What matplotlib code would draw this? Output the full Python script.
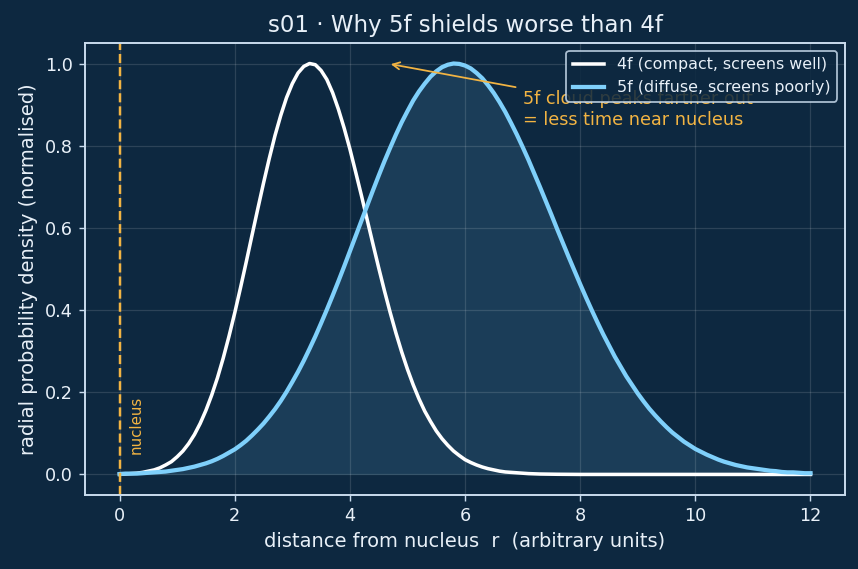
import matplotlib
matplotlib.use("Agg")
import matplotlib.pyplot as plt

# radius samples (arbitrary units), step 0.1 from 0 to 12
r = [i / 10 for i in range(121)]

# 4f radial probability density (normalised)
f4 = [0.000, 0.001, 0.002, 0.003, 0.005, 0.008, 0.011, 0.016, 0.023, 0.031,
      0.043, 0.057, 0.075, 0.097, 0.124, 0.156, 0.193, 0.235, 0.283, 0.336,
      0.393, 0.454, 0.517, 0.582, 0.646, 0.709, 0.769, 0.825, 0.874, 0.917,
      0.951, 0.977, 0.993, 1.000, 0.997, 0.983, 0.961, 0.929, 0.889, 0.843,
      0.792, 0.736, 0.679, 0.620, 0.561, 0.503, 0.447, 0.394, 0.344, 0.298,
      0.256, 0.218, 0.184, 0.154, 0.129, 0.106, 0.087, 0.071, 0.057, 0.046,
      0.036, 0.029, 0.023, 0.018, 0.014, 0.011, 0.008, 0.006, 0.005, 0.004,
      0.003, 0.002, 0.0015, 0.001, 0.0008, 0.0006, 0.0004, 0.0003, 0.0002, 0.0001,
      0.000, 0.000, 0.000, 0.000, 0.000, 0.000, 0.000, 0.000, 0.000, 0.000,
      0.000, 0.000, 0.000, 0.000, 0.000, 0.000, 0.000, 0.000, 0.000, 0.000,
      0.000, 0.000, 0.000, 0.000, 0.000, 0.000, 0.000, 0.000, 0.000, 0.000,
      0.000, 0.000, 0.000, 0.000, 0.000, 0.000, 0.000, 0.000, 0.000, 0.000,
      0.000]

# 5f radial probability density (normalised)
f5 = [0.001, 0.002, 0.002, 0.002, 0.003, 0.004, 0.005, 0.006, 0.007, 0.009,
      0.011, 0.013, 0.016, 0.019, 0.023, 0.027, 0.032, 0.038, 0.045, 0.053,
      0.061, 0.071, 0.082, 0.095, 0.109, 0.124, 0.141, 0.159, 0.179, 0.201,
      0.225, 0.250, 0.277, 0.306, 0.336, 0.368, 0.401, 0.435, 0.470, 0.506,
      0.543, 0.580, 0.617, 0.654, 0.691, 0.727, 0.762, 0.795, 0.827, 0.857,
      0.884, 0.910, 0.932, 0.951, 0.968, 0.981, 0.991, 0.997, 1.000, 0.999,
      0.995, 0.988, 0.977, 0.964, 0.947, 0.928, 0.906, 0.882, 0.855, 0.827,
      0.797, 0.766, 0.733, 0.700, 0.666, 0.632, 0.597, 0.563, 0.529, 0.496,
      0.463, 0.431, 0.400, 0.370, 0.341, 0.314, 0.287, 0.263, 0.239, 0.218,
      0.197, 0.178, 0.160, 0.144, 0.129, 0.115, 0.102, 0.091, 0.080, 0.071,
      0.062, 0.055, 0.048, 0.042, 0.036, 0.031, 0.027, 0.023, 0.020, 0.017,
      0.015, 0.013, 0.011, 0.009, 0.008, 0.006, 0.005, 0.005, 0.004, 0.003,
      0.003]

label_4f = "4f (compact, screens well)"
label_5f = "5f (diffuse, screens poorly)"
xticks = [0, 2, 4, 6, 8, 10, 12]
yticks = [0.0, 0.2, 0.4, 0.6, 0.8, 1.0]

BG = "#0d2840"
FG = "#e8f0f8"
SPINE = "#c9dcee"
BLUE = "#7fd0fb"
ORANGE = "#f2b443"

DPI = 127
fig = plt.figure(figsize=(858 / DPI, 569 / DPI), dpi=DPI, facecolor=BG)
ax = fig.add_axes([0.0991, 0.1301, 0.8858, 0.7944], facecolor=BG)

ax.fill_between(r, f5, 0, color=BLUE, alpha=0.13, lw=0)
ax.plot(r, f4, color="white", lw=2.0, label=label_4f, solid_joinstyle="round")
ax.plot(r, f5, color=BLUE, lw=2.4, label=label_5f, solid_joinstyle="round")

ax.axvline(0, color=ORANGE, ls="--", lw=1.4)
ax.text(0.15, 0.05, "nucleus", rotation=90, color=ORANGE, fontsize=8.5,
        ha="left", va="bottom")

ax.annotate("5f cloud peaks farther out\n= less time near nucleus",
            xy=(4.65, 1.0), xytext=(7.0, 0.935),
            color=ORANGE, fontsize=10, ha="left", va="top",
            arrowprops=dict(arrowstyle="->", color=ORANGE, lw=1.0))

ax.set_xlim(-0.6, 12.6)
ax.set_ylim(-0.05, 1.05)
ax.set_xticks(xticks)
ax.set_yticks(yticks)
ax.grid(True, color="white", alpha=0.13, lw=0.7)

ax.set_title("s01 · Why 5f shields worse than 4f", color=FG, fontsize=13)
ax.set_xlabel("distance from nucleus  r  (arbitrary units)", color=FG, fontsize=11)
ax.set_ylabel("radial probability density (normalised)", color=FG, fontsize=11)

for s in ax.spines.values():
    s.set_color(SPINE)
    s.set_linewidth(1.1)
ax.tick_params(colors=SPINE, labelcolor=FG, labelsize=10)

leg = ax.legend(loc="upper right", fontsize=9, facecolor=BG, edgecolor=SPINE,
                framealpha=0.85, labelcolor=FG)
leg.set_zorder(5)

fig.savefig("out.png", dpi=DPI, facecolor=BG)
